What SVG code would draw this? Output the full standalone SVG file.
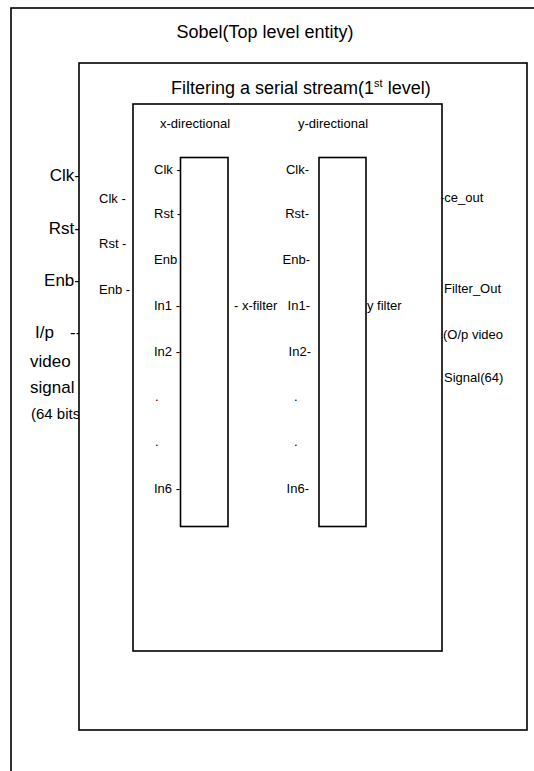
<svg xmlns="http://www.w3.org/2000/svg" width="534" height="771" viewBox="0 0 534 771">
<style>
  .box { fill: #fff; stroke: #000; stroke-width: 1.6; }
  text { font-family: "Liberation Sans", Arial, sans-serif; fill: #000; }
  .t18 { font-size: 18px; }
  .t17 { font-size: 17px; }
  .t13 { font-size: 13px; }
  .end { text-anchor: end; }
  .mid { text-anchor: middle; }
</style>
<rect width="534" height="771" fill="#fff"/>
<g id="sobel">
  <rect class="box" x="11" y="8" width="600" height="800"/>
  <text class="t18 mid" x="265" y="38">Sobel(Top level entity)</text>
  <text class="t17 end" x="80" y="181">Clk-</text>
  <text class="t17 end" x="80" y="234">Rst-</text>
  <text class="t17 end" x="80" y="286">Enb-</text>
  <text class="t17" x="35" y="338">I/p<tspan x="70">--</tspan></text>
  <text class="t17" x="30" y="367">video</text>
  <text class="t17" x="30" y="393">signal</text>
  <text x="31" y="419" font-size="15">(64 bits</text>
</g>
<g id="filtering">
  <rect class="box" x="79" y="63" width="448" height="667"/>
  <text class="t18" x="171" y="94">Filtering a serial stream(1<tspan font-size="11" dy="-7">st</tspan><tspan dy="7"> level)</tspan></text>
  <text class="t13" x="99" y="203">Clk -</text>
  <text class="t13" x="99" y="248">Rst -</text>
  <text class="t13" x="99" y="294">Enb -</text>
  <text class="t13" x="440" y="202">-ce_out</text>
  <text class="t13" x="444" y="293">Filter_Out</text>
  <text class="t13" x="443" y="339">(O/p video</text>
  <text class="t13" x="444" y="382">Signal(64)</text>
</g>
<g id="directional">
  <rect class="box" x="133" y="104" width="309" height="547"/>
  <text class="t13" x="160" y="128">x-directional</text>
  <text class="t13" x="298" y="128">y-directional</text>
</g>
<g id="x-filter">
  <rect class="box" x="180.5" y="157.5" width="47.5" height="369"/>
  <text class="t13" x="154" y="174">Clk -</text>
  <text class="t13" x="154" y="218">Rst -</text>
  <text class="t13" x="154" y="264">Enb</text>
  <text class="t13" x="154" y="310">In1 -</text>
  <text class="t13" x="154" y="356">In2 -</text>
  <text class="t13" x="155" y="401">.</text>
  <text class="t13" x="155" y="446">.</text>
  <text class="t13" x="154" y="493">In6 -</text>
  <text class="t13" x="234" y="310">- x-filter</text>
</g>
<g id="y-filter">
  <rect class="box" x="319" y="157.5" width="47" height="369"/>
  <text class="t13 end" x="309" y="174">Clk-</text>
  <text class="t13 end" x="309" y="218">Rst-</text>
  <text class="t13 end" x="310" y="264">Enb-</text>
  <text class="t13 end" x="310" y="310">In1-</text>
  <text class="t13 end" x="311" y="356">In2-</text>
  <text class="t13" x="294" y="401">.</text>
  <text class="t13" x="294" y="446">.</text>
  <text class="t13 end" x="309" y="493">In6-</text>
  <text class="t13" x="367" y="310">y filter</text>
</g>
</svg>
